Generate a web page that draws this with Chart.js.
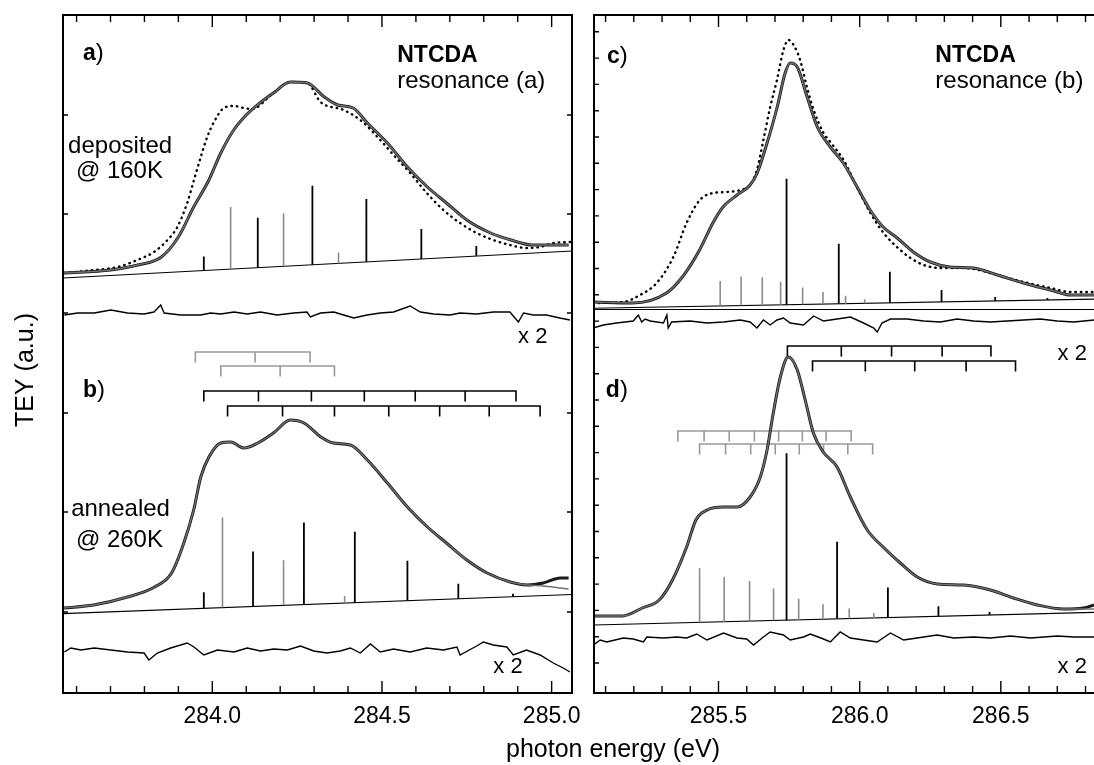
<!DOCTYPE html>
<html>
<head>
<meta charset="utf-8">
<title>NTCDA C1s NEXAFS, TEY</title>
<script src="https://cdn.jsdelivr.net/npm/chart.js@4.4.1/dist/chart.umd.min.js"></script>
<style>
  body { margin: 0; background: #fff; }
  #fig { position: relative; width: 1094px; height: 765px; }
  #fig canvas { position: absolute; top: 0; }
</style>
</head>
<body>
<div id="fig">
  <canvas id="leftChart" width="1094" height="765" style="left:0"></canvas>
  <canvas id="rightChart" width="514" height="765" style="left:580px"></canvas>
</div>
<script>
const FONT = "'Liberation Sans', Arial, Helvetica, sans-serif";
const GRAY = '#8c8c8c';
const FIT = '#707070';

// energy windows of the two columns (eV)
const leftRange = [283.56, 285.06];
const rightRange = [285.059, 286.83];
const leftTickLabels = [284.0, 284.5, 285.0];
const rightTickLabels = [285.5, 286.0, 286.5];

// ---- a) resonance (a), deposited @ 160K ----
const aEnergy = [283.563, 283.70, 283.78, 283.85, 283.90, 283.945, 283.99, 284.025, 284.063, 284.10, 284.14, 284.18, 284.23, 284.28, 284.33, 284.37, 284.415, 284.457, 284.516, 284.575, 284.634, 284.69, 284.75, 284.82, 284.88, 284.945, 285.05];
const aTey = [4.20, 4.23, 4.28, 4.36, 4.56, 4.86, 5.13, 5.40, 5.63, 5.78, 5.90, 6.00, 6.11, 6.10, 5.96, 5.88, 5.85, 5.70, 5.50, 5.26, 5.06, 4.90, 4.73, 4.60, 4.53, 4.48, 4.48];
const aRefEnergy = [283.564, 283.652, 283.721, 283.779, 283.828, 283.868, 283.897, 283.926, 283.946, 283.966, 283.985, 284.005, 284.034, 284.064, 284.093, 284.117, 284.18, 284.23, 284.28, 284.319, 284.387, 284.436, 284.495, 284.534, 284.583, 284.632, 284.681, 284.73, 284.779, 284.828, 284.877, 284.926, 284.966, 285.005, 285.054];
const aRef = [4.20, 4.23, 4.26, 4.33, 4.41, 4.53, 4.66, 4.90, 5.13, 5.36, 5.56, 5.71, 5.85, 5.87, 5.85, 5.84, 6.00, 6.11, 6.10, 5.91, 5.83, 5.73, 5.53, 5.38, 5.20, 5.00, 4.83, 4.70, 4.60, 4.53, 4.48, 4.45, 4.46, 4.50, 4.51];
const aResEnergy = [283.564, 283.603, 283.652, 283.701, 283.75, 283.799, 283.828, 283.848, 283.858, 283.907, 283.966, 283.995, 284.025, 284.064, 284.103, 284.142, 284.191, 284.24, 284.279, 284.289, 284.319, 284.358, 284.387, 284.417, 284.456, 284.495, 284.534, 284.583, 284.613, 284.652, 284.701, 284.73, 284.779, 284.828, 284.877, 284.902, 284.917, 284.946, 284.985, 285.024, 285.054];
const aRes = [3.78, 3.80, 3.80, 3.83, 3.80, 3.79, 3.81, 3.88, 3.80, 3.78, 3.78, 3.80, 3.79, 3.81, 3.79, 3.81, 3.78, 3.80, 3.81, 3.76, 3.80, 3.81, 3.78, 3.75, 3.78, 3.80, 3.81, 3.87, 3.81, 3.79, 3.78, 3.80, 3.79, 3.81, 3.81, 3.71, 3.80, 3.78, 3.78, 3.75, 3.73];
const aBackground = [4.15, 4.42];
const aStickEnergy = [283.975, 284.054, 284.134, 284.21, 284.295, 284.372, 284.454, 284.616, 284.778];
const aStickHeight = [0.14, 0.62, 0.50, 0.53, 0.79, 0.11, 0.63, 0.30, 0.10];
const aStickSet = ['k', 'g', 'k', 'g', 'k', 'g', 'k', 'k', 'k'];

// ---- b) resonance (a), annealed @ 260K ----
const bEnergy = [283.563, 283.65, 283.75, 283.83, 283.88, 283.916, 283.945, 283.966, 283.99, 284.025, 284.054, 284.093, 284.134, 284.18, 284.23, 284.27, 284.32, 284.357, 284.407, 284.457, 284.516, 284.575, 284.634, 284.69, 284.75, 284.81, 284.878, 284.928, 284.975, 285.025, 285.05];
const bTey = [0.85, 0.88, 0.96, 1.06, 1.20, 1.50, 1.83, 2.16, 2.36, 2.50, 2.51, 2.45, 2.50, 2.60, 2.73, 2.70, 2.56, 2.50, 2.48, 2.33, 2.10, 1.86, 1.66, 1.50, 1.33, 1.20, 1.11, 1.08, 1.10, 1.15, 1.15];
const bFit = [0.85, 0.88, 0.96, 1.06, 1.20, 1.50, 1.83, 2.16, 2.36, 2.50, 2.51, 2.45, 2.50, 2.60, 2.73, 2.70, 2.56, 2.50, 2.48, 2.33, 2.10, 1.86, 1.66, 1.50, 1.33, 1.20, 1.11, 1.08, 1.07, 1.05, 1.04];
const bResEnergy = [283.564, 283.583, 283.613, 283.652, 283.701, 283.75, 283.799, 283.813, 283.838, 283.877, 283.926, 283.946, 283.975, 284.015, 284.064, 284.103, 284.142, 284.181, 284.221, 284.26, 284.299, 284.338, 284.377, 284.407, 284.436, 284.466, 284.495, 284.534, 284.583, 284.632, 284.681, 284.721, 284.73, 284.779, 284.799, 284.828, 284.868, 284.887, 284.926, 284.966, 285.005, 285.034, 285.054];
const bRes = [0.41, 0.45, 0.43, 0.45, 0.43, 0.41, 0.40, 0.33, 0.40, 0.45, 0.50, 0.46, 0.38, 0.43, 0.41, 0.45, 0.42, 0.44, 0.43, 0.47, 0.42, 0.40, 0.42, 0.45, 0.40, 0.49, 0.41, 0.44, 0.41, 0.45, 0.43, 0.46, 0.38, 0.47, 0.51, 0.48, 0.46, 0.38, 0.43, 0.38, 0.30, 0.25, 0.21];
const bBackground = [0.794, 0.985];
const bStickEnergy = [283.975, 284.03, 284.12, 284.21, 284.27, 284.39, 284.42, 284.575, 284.725, 284.886];
const bStickHeight = [0.16, 0.90, 0.55, 0.45, 0.82, 0.07, 0.71, 0.40, 0.15, 0.03];
const bStickSet = ['k', 'g', 'k', 'g', 'k', 'g', 'k', 'k', 'k', 'k'];
// vibrational progressions: [level, positions]
const bLaddersGray = [[3.41, [283.95, 284.126, 284.288]], [3.27, [284.025, 284.20, 284.36]]];
const bLaddersBlack = [[3.02, [283.975, 284.136, 284.292, 284.448, 284.598, 284.745, 284.895]],
                       [2.87, [284.045, 284.207, 284.36, 284.52, 284.67, 284.816, 284.966]]];

// ---- c) resonance (b), deposited ----
const cEnergy = [285.055, 285.195, 285.316, 285.372, 285.433, 285.48, 285.516, 285.566, 285.612, 285.637, 285.672, 285.708, 285.736, 285.754, 285.779, 285.814, 285.85, 285.896, 285.942, 285.991, 286.037, 286.083, 286.133, 286.19, 286.25, 286.32, 286.403, 286.488, 286.58, 286.676, 286.747, 286.83];
const cTey = [3.91, 3.90, 4.00, 4.16, 4.43, 4.70, 4.86, 4.98, 5.08, 5.20, 5.50, 5.86, 6.20, 6.30, 6.26, 5.96, 5.66, 5.46, 5.30, 5.06, 4.83, 4.66, 4.55, 4.41, 4.31, 4.26, 4.25, 4.18, 4.10, 4.03, 3.98, 3.98];
const cRefEnergy = [285.057, 285.163, 285.222, 285.281, 285.34, 285.387, 285.434, 285.482, 285.529, 285.577, 285.612, 285.636, 285.659, 285.683, 285.707, 285.73, 285.748, 285.766, 285.789, 285.813, 285.837, 285.872, 285.896, 285.943, 285.99, 286.038, 286.085, 286.132, 286.18, 286.227, 286.286, 286.345, 286.404, 286.487, 286.581, 286.676, 286.747, 286.83];
const cRef = [3.90, 3.91, 3.98, 4.10, 4.36, 4.70, 4.93, 5.00, 5.01, 5.03, 5.08, 5.23, 5.53, 5.86, 6.13, 6.43, 6.53, 6.48, 6.33, 6.06, 5.83, 5.60, 5.51, 5.33, 5.06, 4.80, 4.60, 4.46, 4.35, 4.28, 4.25, 4.25, 4.24, 4.18, 4.11, 4.05, 4.01, 4.01];
const cResEnergy = [285.057, 285.092, 285.139, 285.198, 285.216, 285.228, 285.24, 285.258, 285.305, 285.317, 285.322, 285.334, 285.399, 285.459, 285.518, 285.577, 285.612, 285.636, 285.659, 285.683, 285.707, 285.73, 285.754, 285.801, 285.837, 285.872, 285.92, 285.967, 286.014, 286.05, 286.062, 286.079, 286.109, 286.168, 286.227, 286.286, 286.345, 286.404, 286.463, 286.522, 286.581, 286.64, 286.7, 286.759, 286.83];
const cRes = [3.65, 3.68, 3.70, 3.72, 3.78, 3.71, 3.74, 3.72, 3.70, 3.78, 3.65, 3.71, 3.72, 3.70, 3.71, 3.73, 3.71, 3.65, 3.73, 3.68, 3.73, 3.75, 3.70, 3.68, 3.77, 3.72, 3.74, 3.76, 3.70, 3.65, 3.61, 3.70, 3.74, 3.74, 3.72, 3.71, 3.74, 3.72, 3.71, 3.72, 3.73, 3.74, 3.72, 3.71, 3.73];
const cBackground = [3.847, 3.939];
const cZeroLine = [3.835, 3.835];
const cStickEnergy = [285.506, 285.58, 285.655, 285.72, 285.741, 285.798, 285.87, 285.926, 285.95, 286.018, 286.107, 286.29, 286.48, 286.665];
const cStickHeight = [0.25, 0.29, 0.28, 0.23, 1.26, 0.17, 0.12, 0.60, 0.08, 0.04, 0.31, 0.12, 0.04, 0.02];
const cStickSet = ['g', 'g', 'g', 'g', 'k', 'g', 'g', 'k', 'g', 'g', 'k', 'k', 'k', 'k'];

// ---- d) resonance (b), annealed ----
const dEnergy = [285.055, 285.16, 285.23, 285.29, 285.337, 285.387, 285.42, 285.46, 285.516, 285.566, 285.612, 285.648, 285.672, 285.694, 285.719, 285.747, 285.779, 285.807, 285.836, 285.871, 285.92, 285.967, 286.027, 286.083, 286.144, 286.204, 286.275, 286.367, 286.463, 286.545, 286.63, 286.722, 286.793, 286.83];
const dTey = [0.77, 0.77, 0.85, 0.93, 1.13, 1.46, 1.73, 1.83, 1.86, 1.86, 1.96, 2.16, 2.43, 2.80, 3.16, 3.36, 3.23, 2.93, 2.60, 2.41, 2.26, 1.96, 1.63, 1.46, 1.30, 1.16, 1.09, 1.08, 1.03, 0.95, 0.88, 0.84, 0.85, 0.88];
const dFit = [0.77, 0.77, 0.85, 0.93, 1.13, 1.46, 1.73, 1.83, 1.86, 1.86, 1.96, 2.16, 2.43, 2.80, 3.16, 3.36, 3.23, 2.93, 2.60, 2.41, 2.26, 1.96, 1.63, 1.46, 1.30, 1.16, 1.09, 1.08, 1.03, 0.95, 0.88, 0.84, 0.84, 0.84];
const dResEnergy = [285.057, 285.081, 285.104, 285.163, 285.198, 285.234, 285.246, 285.305, 285.352, 285.387, 285.423, 285.459, 285.518, 285.565, 285.6, 285.624, 285.659, 285.683, 285.73, 285.754, 285.801, 285.825, 285.872, 285.896, 285.931, 285.967, 286.014, 286.062, 286.109, 286.156, 286.203, 286.274, 286.333, 286.404, 286.463, 286.534, 286.605, 286.7, 286.759, 286.83];
const dRes = [0.48, 0.53, 0.51, 0.55, 0.54, 0.51, 0.56, 0.55, 0.56, 0.55, 0.59, 0.53, 0.60, 0.55, 0.54, 0.48, 0.56, 0.61, 0.58, 0.53, 0.56, 0.59, 0.54, 0.51, 0.61, 0.55, 0.53, 0.51, 0.60, 0.53, 0.55, 0.58, 0.55, 0.56, 0.55, 0.57, 0.55, 0.57, 0.56, 0.56];
const dBackground = [0.68, 0.806];
const dStickEnergy = [285.433, 285.52, 285.61, 285.695, 285.741, 285.784, 285.87, 285.92, 285.963, 286.05, 286.1, 286.279, 286.46];
const dStickHeight = [0.54, 0.45, 0.40, 0.32, 1.67, 0.21, 0.15, 0.77, 0.10, 0.05, 0.30, 0.10, 0.03];
const dStickSet = ['g', 'g', 'g', 'g', 'k', 'g', 'g', 'k', 'g', 'g', 'k', 'k', 'k'];
const dLaddersBlack = [[3.47, [285.744, 285.935, 286.113, 286.292, 286.465]],
                       [3.32, [285.833, 286.02, 286.195, 286.377, 286.552]]];
const dLaddersGray = [[2.62, [285.356, 285.449, 285.538, 285.627, 285.713, 285.797, 285.881, 285.97]],
                      [2.49, [285.433, 285.525, 285.614, 285.701, 285.786, 285.872, 285.958, 286.046]]];

const LADDER_DROP = 0.105;

function pts(xs, ys) {
  return xs.map((x, i) => ({ x, y: ys[i] }));
}

// straight background between the two panel edges
function bgAt(range, bg, e) {
  return bg[0] + (bg[1] - bg[0]) * (e - range[0]) / (range[1] - range[0]);
}

// stick spectrum standing on the background line, one colour group
function sticks(range, bg, es, hs, sets, want) {
  const out = [];
  es.forEach((e, i) => {
    if (sets[i] !== want) return;
    const base = bgAt(range, bg, e);
    out.push({ x: e, y: base }, { x: e, y: base + hs[i] }, { x: e, y: null });
  });
  return out;
}

// bracket with downward ticks at every level of a progression
function ladders(list) {
  const out = [];
  for (const [level, pos] of list) {
    pos.forEach((p, i) => {
      if (i > 0) out.push({ x: p, y: level });
      out.push({ x: p, y: level - LADDER_DROP }, { x: p, y: level });
    });
    out.push({ x: pos[pos.length - 1], y: null });
  }
  return out;
}

function line(data, color, width, extra) {
  return Object.assign({
    data, borderColor: color, borderWidth: width,
    pointRadius: 0, tension: 0, fill: false
  }, extra || {});
}

const smooth = { tension: 0.4, cubicInterpolationMode: 'monotone' };
const dotted = { borderDash: [0.5, 5], borderCapStyle: 'round', tension: 0.4, cubicInterpolationMode: 'monotone' };

// frame, inward ticks and the panel annotations
const panelDecor = {
  id: 'panelDecor',
  afterDatasetsDraw(chart, args, opts) {
    const { ctx, chartArea: area, scales: { x, y } } = chart;
    ctx.save();
    ctx.strokeStyle = '#000';
    ctx.lineWidth = 1.4;
    ctx.beginPath();
    for (let i = Math.ceil(x.min * 10 - 1e-6); i <= Math.floor(x.max * 10 + 1e-6); i++) {
      const px = x.getPixelForValue(i / 10);
      const len = i % 5 === 0 ? 12 : 7;
      ctx.moveTo(px, area.top); ctx.lineTo(px, area.top + len);
      ctx.moveTo(px, area.bottom); ctx.lineTo(px, area.bottom - len);
    }
    for (const v of opts.yTicks) {
      const py = y.getPixelForValue(v);
      ctx.moveTo(area.left, py); ctx.lineTo(area.left + 5, py);
      if (opts.closed) { ctx.moveTo(area.right, py); ctx.lineTo(area.right - 5, py); }
    }
    ctx.stroke();

    ctx.lineWidth = 2;
    ctx.beginPath();
    if (opts.closed) {
      ctx.rect(area.left, area.top, area.right - area.left, area.bottom - area.top);
    } else {
      ctx.moveTo(area.right + 2, area.top);
      ctx.lineTo(area.left, area.top);
      ctx.lineTo(area.left, area.bottom);
      ctx.lineTo(area.right + 2, area.bottom);
    }
    ctx.stroke();

    ctx.fillStyle = '#000';
    ctx.textBaseline = 'alphabetic';
    for (const lab of opts.labels) {
      let px = x.getPixelForValue(lab.e);
      const py = y.getPixelForValue(lab.v);
      for (const [txt, bold] of lab.parts) {
        ctx.font = (bold ? 'bold 23' : (lab.size || 24)) + 'px ' + FONT;
        ctx.fillText(txt, px, py);
        px += ctx.measureText(txt).width;
      }
    }

    for (const t of opts.titles || []) {
      ctx.save();
      ctx.translate(t.x, t.y);
      ctx.rotate(t.rot || 0);
      ctx.font = '25px ' + FONT;
      ctx.textAlign = 'center';
      ctx.fillText(t.text, 0, 0);
      ctx.restore();
    }
    ctx.restore();
  }
};

function makeChart(id, range, tickLabels, padding, datasets, decor) {
  return new Chart(document.getElementById(id), {
    type: 'line',
    data: { datasets },
    options: {
      responsive: false,
      animation: false,
      events: [],
      layout: { padding },
      plugins: { legend: { display: false }, tooltip: { enabled: false }, panelDecor: decor },
      scales: {
        x: {
          type: 'linear', min: range[0], max: range[1],
          grid: { display: false }, border: { display: false },
          afterBuildTicks: s => { s.ticks = tickLabels.map(v => ({ value: v })); },
          afterFit: s => { s.height = 72; },
          ticks: {
            autoSkip: false, maxRotation: 0, padding: 2, color: '#000',
            font: { size: 23 }, callback: v => v.toFixed(1)
          }
        },
        y: { type: 'linear', min: 0, max: 6.78, display: false }
      }
    },
    plugins: [panelDecor]
  });
}

makeChart('leftChart', leftRange, leftTickLabels, { left: 63, right: 522, top: 15, bottom: 0 }, [
  line(pts(aEnergy, aTey), FIT, 1.4, smooth),
  line(pts(aEnergy, aTey), '#1a1a1a', 3, smooth),
  line(pts(bEnergy, bFit), FIT, 1.4, smooth),
  line(pts(bEnergy, bTey), '#1a1a1a', 3, smooth),
  line(pts(aRefEnergy, aRef), '#000', 2.4, dotted),
  line(sticks(leftRange, aBackground, aStickEnergy, aStickHeight, aStickSet, 'k'), '#000', 1.8),
  line(sticks(leftRange, aBackground, aStickEnergy, aStickHeight, aStickSet, 'g'), GRAY, 1.6),
  line(sticks(leftRange, bBackground, bStickEnergy, bStickHeight, bStickSet, 'k'), '#000', 1.8),
  line(sticks(leftRange, bBackground, bStickEnergy, bStickHeight, bStickSet, 'g'), GRAY, 1.6),
  line(pts(leftRange, aBackground), '#000', 1.1),
  line(pts(leftRange, bBackground), '#000', 1.1),
  line(pts(aResEnergy, aRes), '#000', 1.4),
  line(pts(bResEnergy, bRes), '#000', 1.4),
  line(ladders(bLaddersBlack), '#000', 1.6),
  line(ladders(bLaddersGray), '#999', 1.6)
], {
  closed: true,
  yTicks: [0.81, 1.81, 2.80, 3.80, 4.79, 5.78],
  labels: [
    { e: 283.619, v: 6.33, parts: [['a', true], [')', false]] },
    { e: 284.545, v: 6.31, parts: [['NTCDA', true]] },
    { e: 284.545, v: 6.05, parts: [['resonance (a)', false]] },
    { e: 283.575, v: 5.40, parts: [['deposited', false]] },
    { e: 283.598, v: 5.15, parts: [['@ 160K', false]] },
    { e: 284.901, v: 3.50, size: 22, parts: [['x 2', false]] },
    { e: 283.619, v: 2.96, parts: [['b', true], [')', false]] },
    { e: 283.584, v: 1.77, parts: [['annealed', false]] },
    { e: 283.598, v: 1.46, parts: [['@ 260K', false]] },
    { e: 284.828, v: 0.20, size: 22, parts: [['x 2', false]] }
  ],
  titles: [
    { text: 'TEY (a.u.)', x: 33, y: 370, rot: -Math.PI / 2 },
    { text: 'photon energy (eV)', x: 613, y: 757 }
  ]
});

makeChart('rightChart', rightRange, rightTickLabels, { left: 14, right: 0, top: 15, bottom: 0 }, [
  line(pts(cEnergy, cTey), FIT, 1.4, smooth),
  line(pts(cEnergy, cTey), '#1a1a1a', 3, smooth),
  line(pts(dEnergy, dFit), FIT, 1.4, smooth),
  line(pts(dEnergy, dTey), '#1a1a1a', 3, smooth),
  line(pts(cRefEnergy, cRef), '#000', 2.4, dotted),
  line(sticks(rightRange, cBackground, cStickEnergy, cStickHeight, cStickSet, 'k'), '#000', 1.8),
  line(sticks(rightRange, cBackground, cStickEnergy, cStickHeight, cStickSet, 'g'), GRAY, 1.6),
  line(sticks(rightRange, dBackground, dStickEnergy, dStickHeight, dStickSet, 'k'), '#000', 1.8),
  line(sticks(rightRange, dBackground, dStickEnergy, dStickHeight, dStickSet, 'g'), GRAY, 1.6),
  line(pts(rightRange, cBackground), '#000', 1.1),
  line(pts(rightRange, cZeroLine), '#000', 1.1),
  line(pts(rightRange, dBackground), '#000', 1.1),
  line(pts(cResEnergy, cRes), '#000', 1.4),
  line(pts(dResEnergy, dRes), '#000', 1.4),
  line(ladders(dLaddersBlack), '#000', 1.6),
  line(ladders(dLaddersGray), '#999', 1.6)
], {
  closed: false,
  yTicks: Array.from({ length: 25 }, (_, k) => 0.30 + k * 0.263),
  labels: [
    { e: 285.105, v: 6.30, parts: [['c', true], [')', false]] },
    { e: 286.268, v: 6.31, parts: [['NTCDA', true]] },
    { e: 286.268, v: 6.05, parts: [['resonance (b)', false]] },
    { e: 285.101, v: 2.96, parts: [['d', true], [')', false]] },
    { e: 286.701, v: 3.33, size: 22, parts: [['x 2', false]] },
    { e: 286.701, v: 0.20, size: 22, parts: [['x 2', false]] }
  ]
});
</script>
</body>
</html>
